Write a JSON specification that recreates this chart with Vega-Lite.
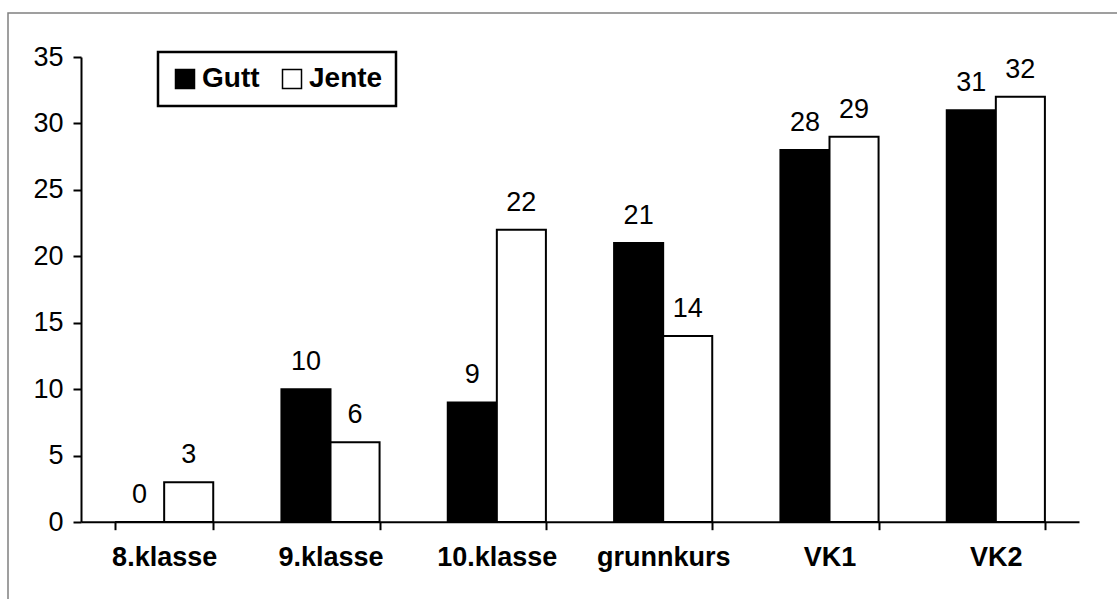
{
  "$schema": "https://vega.github.io/schema/vega-lite/v6.json",
  "width": 1115,
  "height": 590,
  "autosize": {"type": "none"},
  "padding": {"left": 8, "top": 13, "right": 0, "bottom": 0},
  "background": "white",
  "config": {
    "view": {"stroke": "#808080", "strokeWidth": 1.5},
    "font": "Liberation Sans",
    "legend": {"strokeWidth": 2.5}
  },
  "data": {
    "values": [
      {"klasse": "8.klasse", "kjonn": "Gutt", "verdi": 0},
      {"klasse": "8.klasse", "kjonn": "Jente", "verdi": 3},
      {"klasse": "9.klasse", "kjonn": "Gutt", "verdi": 10},
      {"klasse": "9.klasse", "kjonn": "Jente", "verdi": 6},
      {"klasse": "10.klasse", "kjonn": "Gutt", "verdi": 9},
      {"klasse": "10.klasse", "kjonn": "Jente", "verdi": 22},
      {"klasse": "grunnkurs", "kjonn": "Gutt", "verdi": 21},
      {"klasse": "grunnkurs", "kjonn": "Jente", "verdi": 14},
      {"klasse": "VK1", "kjonn": "Gutt", "verdi": 28},
      {"klasse": "VK1", "kjonn": "Jente", "verdi": 29},
      {"klasse": "VK2", "kjonn": "Gutt", "verdi": 31},
      {"klasse": "VK2", "kjonn": "Jente", "verdi": 32}
    ]
  },
  "encoding": {
    "x": {
      "field": "klasse",
      "type": "nominal",
      "sort": ["8.klasse", "9.klasse", "10.klasse", "grunnkurs", "VK1", "VK2"],
      "scale": {"range": [73, 1071], "paddingInner": 0.41, "paddingOuter": 0.205},
      "axis": {
        "title": null,
        "tickBand": "extent",
        "labelAngle": 0,
        "labelFontWeight": "bold",
        "labelFontSize": 27,
        "labelColor": "black",
        "domainColor": "black",
        "domainWidth": 2,
        "tickColor": "black",
        "tickWidth": 2,
        "tickSize": 8,
        "labelPadding": 15,
        "offset": -81.3,
        "grid": false
      }
    },
    "xOffset": {
      "field": "kjonn",
      "type": "nominal",
      "sort": ["Gutt", "Jente"],
      "scale": {"paddingInner": 0, "paddingOuter": 0}
    },
    "y": {
      "field": "verdi",
      "type": "quantitative",
      "scale": {"domain": [0, 35], "range": [509, 44], "nice": false},
      "axis": {
        "title": null,
        "values": [0, 5, 10, 15, 20, 25, 30, 35],
        "grid": false,
        "labelFontSize": 27,
        "labelColor": "black",
        "domainColor": "black",
        "domainWidth": 2,
        "tickColor": "black",
        "tickWidth": 2,
        "tickSize": 8,
        "labelPadding": 10,
        "offset": -73
      }
    }
  },
  "layer": [
    {
      "mark": {"type": "bar", "stroke": "black", "strokeWidth": 2},
      "encoding": {
        "color": {
          "field": "kjonn",
          "type": "nominal",
          "scale": {"domain": ["Gutt", "Jente"], "range": ["black", "white"]},
          "legend": {
            "orient": "none",
            "legendX": 150,
            "legendY": 39,
            "direction": "horizontal",
            "title": null,
            "strokeColor": "black",
            "padding": 13,
            "symbolType": "square",
            "symbolSize": 361,
            "symbolStrokeColor": "black",
            "symbolStrokeWidth": 1.5,
            "labelFontSize": 28,
            "labelFontWeight": "bold",
            "labelColor": "black",
            "labelOffset": 3,
            "columnPadding": 18
          }
        }
      }
    },
    {
      "mark": {"type": "text", "dy": -19, "baseline": "alphabetic", "fontSize": 27, "color": "black"},
      "encoding": {"text": {"field": "verdi", "type": "quantitative"}}
    }
  ]
}
